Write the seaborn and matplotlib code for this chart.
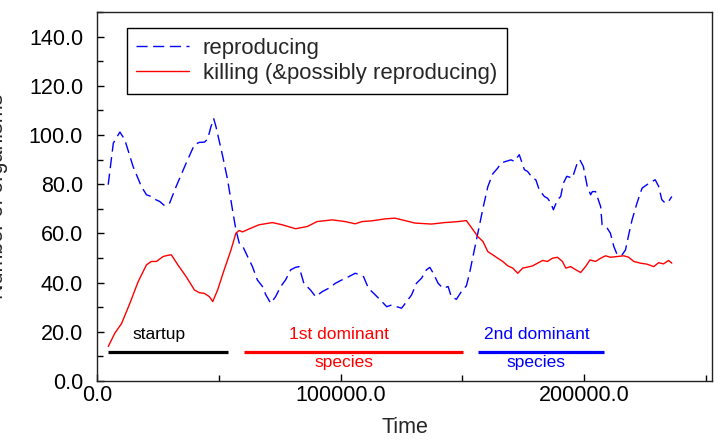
import matplotlib
matplotlib.use('Agg')
import matplotlib.pyplot as plt
from matplotlib.lines import Line2D
from matplotlib.ticker import MultipleLocator, FormatStrFormatter
import seaborn as sns
import pandas as pd

# reproducing organisms (blue, dashed)
repro_time = [4600, 6700, 9400, 11400, 14800, 18200, 20300, 22300, 23700, 25700,
              27800, 29800, 32500, 36600, 40000, 42000, 44100, 45400, 46800, 47900,
              48800, 51600, 53600, 55600, 57000, 58400, 59700, 61800, 63800, 65800,
              67900, 69300, 71300, 73300, 75400, 77400, 79500, 81500, 82900, 84900,
              87600, 89700, 92400, 95100, 97800, 100500, 103300, 106000, 108000, 109400,
              111400, 114200, 116900, 118900, 120900, 123000, 125000, 127100, 129100, 131100,
              133200, 135200, 136600, 138000, 140000, 142000, 144100, 145400, 147500, 149500,
              151600, 152900, 154300, 156300, 158400, 160400, 162400, 164500, 165800, 167900,
              169900, 171300, 173300, 175400, 176700, 178800, 180100, 181500, 183600, 184900,
              186300, 187300, 189000, 190300, 191400, 192800, 195100, 197100, 198200, 199600,
              201200, 202600, 203300, 204600, 206700, 207300, 209400, 210700, 212100, 213500,
              215500, 216900, 218200, 219600, 221600, 223700, 225700, 227800, 229100, 230500,
              231800, 233200, 234600, 235900]
repro_count = [79.8, 96.7, 101.2, 98.1, 87.2, 79.1, 75.7, 75.0, 73.9, 73.0,
               71.2, 72.3, 79.1, 88.6, 96.1, 97.0, 97.1, 98.3, 103.5, 106.6,
               103.5, 91.3, 81.8, 69.6, 61.5, 56.0, 55.0, 50.6, 46.5, 41.1,
               38.4, 35.0, 31.6, 34.3, 38.4, 41.1, 45.2, 46.2, 46.5, 39.7,
               37.0, 34.3, 36.3, 37.7, 39.7, 41.1, 42.4, 43.8, 43.1, 42.4,
               37.7, 35.0, 32.3, 30.2, 30.9, 30.2, 29.6, 32.3, 35.0, 39.7,
               41.8, 45.2, 46.2, 43.8, 39.7, 37.7, 38.4, 34.3, 33.2, 36.3,
               38.7, 43.8, 50.6, 60.1, 70.2, 79.0, 84.2, 86.6, 88.6, 89.3,
               89.9, 89.3, 92.0, 85.9, 85.2, 82.5, 81.8, 77.7, 75.0, 74.3,
               72.3, 69.6, 73.7, 75.0, 80.4, 83.2, 82.5, 88.6, 89.9, 87.2,
               79.1, 75.7, 77.0, 77.0, 70.9, 63.5, 62.1, 60.1, 54.7, 51.3,
               51.3, 53.3, 59.4, 65.5, 72.3, 78.4, 79.8, 81.1, 81.8, 79.1,
               73.7, 72.3, 73.0, 75.0]

# killing organisms (red, solid)
kill_time = [4600, 7300, 10100, 13500, 16900, 20300, 22300, 24400, 27100, 29100,
             30500, 33200, 36600, 40000, 42000, 44100, 46100, 47500, 49500, 52200,
             55000, 57000, 58400, 59700, 62400, 66500, 72000, 76000, 81500, 86300,
             90300, 96500, 101900, 106000, 108700, 112800, 118200, 122300, 126400, 130500,
             137300, 142700, 148200, 151600, 154300, 156300, 158400, 160400, 162400, 164500,
             166500, 168600, 170600, 172700, 174700, 176700, 178800, 180800, 182900, 184900,
             186900, 189000, 191000, 192400, 194400, 196500, 198500, 200500, 202300, 204600,
             206700, 208700, 210700, 213500, 216200, 218200, 220300, 223000, 225700, 228500,
             230500, 232500, 234600, 235900]
kill_count = [14.0, 19.4, 23.4, 31.6, 40.4, 47.2, 48.6, 48.6, 50.6, 51.1,
              51.3, 47.2, 42.4, 37.0, 35.9, 35.6, 34.3, 32.3, 37.0, 45.2,
              53.3, 60.1, 61.2, 60.6, 61.8, 63.5, 64.4, 63.5, 61.9, 62.8,
              64.8, 65.5, 64.8, 63.9, 64.8, 65.1, 65.9, 66.2, 65.2, 64.2,
              63.8, 64.4, 64.8, 65.2, 61.5, 58.7, 56.7, 52.6, 51.3, 49.9,
              48.6, 46.8, 45.9, 43.8, 45.9, 46.3, 46.8, 47.9, 49.0, 48.6,
              49.9, 50.3, 48.6, 45.9, 46.5, 45.2, 44.1, 46.5, 49.2, 48.6,
              49.9, 50.9, 50.3, 50.6, 50.9, 50.3, 48.6, 47.9, 47.5, 46.5,
              48.1, 47.6, 49.0, 47.9]

series_names = ['reproducing', 'killing (&possibly reproducing)']
series_colors = ['blue', 'red']

# phases marked under the curves
phase_start = [4500, 60500, 156300]
phase_end = [53700, 150100, 208100]
phase_colors = ['black', 'red', 'blue']
phase_top = ['startup', '1st dominant', '2nd dominant']
phase_bottom = ['', 'species', 'species']
phase_top_x = [25400, 99300, 180700]
phase_bottom_x = [25400, 101500, 180300]
phase_level = 11.8

df = pd.concat([
    pd.DataFrame({'Time': repro_time, 'count': repro_count, 'series': series_names[0]}),
    pd.DataFrame({'Time': kill_time, 'count': kill_count, 'series': series_names[1]}),
])

sns.set_style('white')
plt.rcParams['font.family'] = ['Liberation Sans', 'DejaVu Sans']

fig = plt.figure(figsize=(7.18, 4.48), dpi=100)
ax = fig.add_axes([97 / 718, 67 / 448, 615 / 718, 369 / 448])

sns.lineplot(data=df, x='Time', y='count', hue='series', style='series',
             palette=dict(zip(series_names, series_colors)),
             dashes={series_names[0]: (8, 4), series_names[1]: ''},
             estimator=None, linewidth=1.0, legend=False, ax=ax)

for s, e, c in zip(phase_start, phase_end, phase_colors):
    ax.hlines(phase_level, s, e, color=c, linewidth=2.3)
for tx, bx, t, b, c in zip(phase_top_x, phase_bottom_x, phase_top, phase_bottom, phase_colors):
    ax.text(tx, 17.0, t, color=c, ha='center', va='baseline', fontsize=12.5)
    if b:
        ax.text(bx, 5.7, b, color=c, ha='center', va='baseline', fontsize=12.5)

ax.set_xlim(0, 252400)
ax.set_ylim(0, 150)
ax.xaxis.set_major_locator(MultipleLocator(100000))
ax.xaxis.set_minor_locator(MultipleLocator(50000))
ax.yaxis.set_major_locator(MultipleLocator(20))
ax.yaxis.set_minor_locator(MultipleLocator(10))
ax.xaxis.set_major_formatter(FormatStrFormatter('%.1f'))
ax.yaxis.set_major_formatter(FormatStrFormatter('%.1f'))
ax.tick_params(which='both', direction='in', bottom=True, left=True, top=False, right=False,
               labelsize=15.5, colors='black', width=1)
ax.tick_params(which='major', length=5)
ax.tick_params(which='minor', length=4.5)
ax.tick_params(axis='y', which='major', pad=10)
ax.tick_params(axis='x', which='major', pad=3)
for sp in ax.spines.values():
    sp.set_color('#222222')
    sp.set_linewidth(1.0)

ax.set_xlabel('Time', fontsize=15.5, labelpad=8)
ax.set_ylabel('Number of organisms', fontsize=15.5)
ax.yaxis.set_label_coords(-0.145, 0.5)

handles = [Line2D([], [], color=series_colors[0], linewidth=1.0, dashes=(8, 4)),
           Line2D([], [], color=series_colors[1], linewidth=1.0)]
leg = ax.legend(handles, series_names, loc='upper left', bbox_to_anchor=(0.048, 0.957),
                borderaxespad=0, fontsize=15.9, frameon=True, fancybox=False,
                edgecolor='black', framealpha=1, handlelength=2.4, handletextpad=0.6,
                labelspacing=0.2, borderpad=0.45)
leg.get_frame().set_linewidth(1.0)

fig.savefig('out.png', dpi=100)
